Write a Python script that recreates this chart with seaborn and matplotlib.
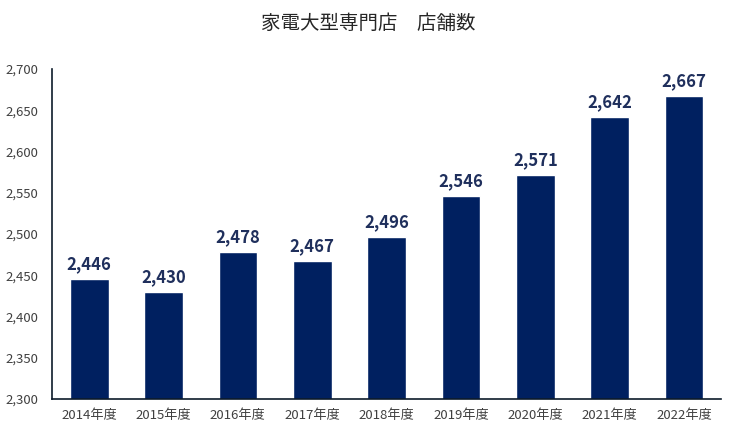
import pandas as pd
import numpy as np
import matplotlib.pyplot as plt
import seaborn as sns

years = ['2014年度', '2015年度', '2016年度', '2017年度', '2018年度',
         '2019年度', '2020年度', '2021年度', '2022年度']
stores = [2446, 2430, 2478, 2467, 2496, 2546, 2571, 2642, 2667]

dados = pd.DataFrame({'年度': years, '店舗数': stores})

sns.set_style('white')
plt.rcParams['font.family'] = ['Noto Sans CJK JP', 'DejaVu Sans']

fig = plt.figure(figsize=(7.37, 4.37), dpi=100)
ax = fig.add_axes([0.0706, 0.087, 0.908, 0.755])

sns.barplot(data=dados, x='年度', y='店舗数', color='#002060', width=0.52,
            saturation=1, ax=ax)

ax.set_ylim(2300, 2700)
ax.set_yticks(np.arange(2300, 2701, 50))
ax.set_yticklabels([f'{v:,}' for v in range(2300, 2701, 50)])
ax.set_xlabel('')
ax.set_ylabel('')
ax.tick_params(axis='both', length=0, labelsize=9.5, colors='#404040')
ax.tick_params(axis='x', pad=7)
ax.tick_params(axis='y', pad=10)

for s in ['top', 'right']:
    ax.spines[s].set_visible(False)
for s in ['left', 'bottom']:
    ax.spines[s].set_color('#0d1b2a')
    ax.spines[s].set_linewidth(1.2)

for i, v in enumerate(stores):
    ax.text(i, v + 7, f'{v:,}', ha='center', va='bottom', fontsize=12,
            fontweight='bold', color='#1f2f5c')

fig.suptitle('家電大型専門店\u3000店舗数', y=0.97, fontsize=14, color='#262626')

plt.savefig('out.png', dpi=100)
